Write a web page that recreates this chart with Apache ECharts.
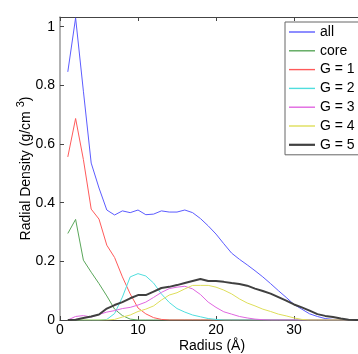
<!DOCTYPE html>
<html>
<head>
<meta charset="utf-8">
<script src="https://cdn.jsdelivr.net/npm/echarts@6/dist/echarts.min.js"></script>
<style>html,body{margin:0;padding:0;background:#fff;overflow:hidden;}#c{width:358px;height:354px;}</style>
</head>
<body>
<div id="c"></div>
<script>
const radius = [1,2,3,4,5,6,7,8,9,10,11,12,13,14,15,16,17,18,19,20,21,22,23,24,25,26,27,28,29,30,31,32,33,34,35,36,37,38,39,40];
const allVals = [0.846,1.03,0.78,0.535,0.45,0.375,0.358,0.372,0.366,0.375,0.359,0.361,0.372,0.368,0.368,0.375,0.366,0.346,0.321,0.293,0.26,0.228,0.207,0.188,0.168,0.147,0.124,0.10,0.077,0.053,0.037,0.021,0.012,0.005,0.002,0.001,0,0,0,0];
const coreVals = [0.295,0.343,0.204,0.163,0.124,0.082,0.037,0.015,0.003,0,0,0,0,0,0,0,0,0,0,0,0,0,0,0,0,0,0,0,0,0,0,0,0,0,0,0,0,0,0,0];
const g1Vals = [0.556,0.687,0.547,0.378,0.344,0.255,0.213,0.147,0.089,0.041,0.021,0.008,0.002,0,0,0,0,0,0,0,0,0,0,0,0,0,0,0,0,0,0,0,0,0,0,0,0,0,0,0];
const g2Vals = [0,0,0,0,0,0.002,0.022,0.078,0.147,0.158,0.15,0.126,0.089,0.06,0.039,0.027,0.017,0.011,0.005,0.002,0,0,0,0,0,0,0,0,0,0,0,0,0,0,0,0,0,0,0,0];
const g3Vals = [0,0.012,0.015,0.010,0.019,0.027,0.032,0.039,0.043,0.051,0.061,0.077,0.094,0.107,0.112,0.115,0.106,0.087,0.061,0.043,0.028,0.02,0.012,0.007,0.003,0.001,0,0,0,0,0,0,0,0,0,0,0,0,0,0];
const g4Vals = [0,0,0,0,0,0,0.002,0.010,0.017,0.029,0.037,0.048,0.068,0.085,0.093,0.106,0.118,0.118,0.118,0.112,0.102,0.089,0.072,0.058,0.048,0.037,0.029,0.02,0.014,0.007,0.002,0,0,0,0,0,0,0,0,0];
const g5Vals = [0,0.001,0.007,0.012,0.019,0.039,0.051,0.061,0.074,0.085,0.085,0.097,0.109,0.113,0.119,0.126,0.133,0.140,0.133,0.133,0.13,0.126,0.123,0.117,0.107,0.099,0.09,0.078,0.066,0.053,0.043,0.032,0.02,0.014,0.01,0.005,0.001,0,0,0];
const seriesNames = ['all','core','G = 1','G = 2','G = 3','G = 4','G = 5'];
const yTicks = ['0','0.2','0.4','0.6','0.8','1'];

const colors = ['#5c5cff','#5aa65a','#ff5a5a','#50dede','#e066e0','#dede5a','#404040'];
const widths = [1,1,1,1,1,1,2];
const vals = [allVals,coreVals,g1Vals,g2Vals,g3Vals,g4Vals,g5Vals];
const font = 'Liberation Sans, Arial, sans-serif';
const thinIcon = 'path://M0,0 H26 V1.4 H0 Z';
const thickIcon = 'path://M0,0 H26 V2.2 H0 Z';

const chart = echarts.init(document.getElementById('c'), null, {renderer:'canvas'});
chart.setOption({
  animation: false,
  backgroundColor: '#fff',
  grid: {left: 60, top: 17, width: 312, bottom: 34, containLabel: false, outerBoundsMode: 'none'},
  legend: {
    orient: 'vertical', left: 285, top: 22,
    data: seriesNames.map(function (n, i) {
      return {name: n, icon: widths[i] > 1 ? thickIcon : thinIcon, itemStyle: {color: colors[i]}};
    }),
    backgroundColor: '#fff', borderColor: '#666', borderWidth: 1, borderRadius: 0,
    padding: [3, 12, 3, 4], itemWidth: 26, itemHeight: 14, itemGap: 4.8,
    textStyle: {fontFamily: font, fontSize: 14, color: '#000', lineHeight: 14}
  },
  xAxis: [{
    type: 'value', min: 0, max: 40, interval: 10,
    name: 'Radius (Å)', nameLocation: 'middle', nameGap: 19, nameMoveOverlap: false,
    nameTextStyle: {fontFamily: font, fontSize: 14, color: '#000', padding: [0, 8, 0, 0]},
    axisLine: {show: true, lineStyle: {color: '#444', width: 1}},
    axisTick: {show: true, inside: true, length: 4, lineStyle: {color: '#444'}},
    axisLabel: {fontFamily: font, fontSize: 14, color: '#000', margin: 3},
    splitLine: {show: false}
  }, {
    type: 'value', min: 0, max: 40, interval: 10, position: 'top',
    axisLine: {show: true, lineStyle: {color: '#444', width: 1}},
    axisTick: {show: true, inside: true, length: 4, lineStyle: {color: '#444'}},
    axisLabel: {show: false}, splitLine: {show: false}
  }],
  yAxis: {
    type: 'value', min: 0, max: 1.033, interval: 0.2,
    name: '{a|Radial Density (g/cm }{s|3}{a|)}', nameLocation: 'middle', nameGap: 22, nameMoveOverlap: false,
    nameTextStyle: {
      rich: {
        a: {fontFamily: font, fontSize: 14, color: '#000'},
        s: {fontFamily: font, fontSize: 11, color: '#000', padding: [0, 0, 12, 0]}
      }
    },
    axisLine: {show: true, lineStyle: {color: '#999', width: 1.5}},
    axisTick: {show: true, inside: true, length: 4, lineStyle: {color: '#444'}},
    axisLabel: {
      fontFamily: font, fontSize: 14, color: '#000', margin: 5,
      formatter: function (v) {
        const k = Math.round(v * 5);
        if (Math.abs(v * 5 - k) > 1e-6) return '';
        return yTicks[k] !== undefined ? yTicks[k] : '';
      }
    },
    splitLine: {show: false}
  },
  series: seriesNames.map(function (n, i) {
    return {
      name: n, type: 'line', symbol: 'none', xAxisIndex: 0,
      data: radius.map(function (r, j) { return [r, vals[i][j]]; }),
      lineStyle: {color: colors[i], width: widths[i]},
      itemStyle: {color: colors[i]},
      z: 2 + i
    };
  })
});
</script>
</body>
</html>
